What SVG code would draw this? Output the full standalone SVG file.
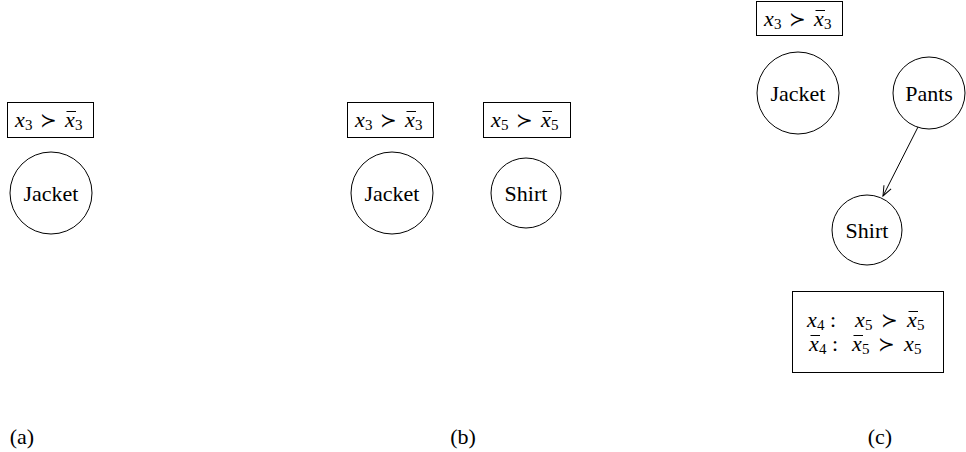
<svg xmlns="http://www.w3.org/2000/svg" width="966" height="452" viewBox="0 0 966 452">
<style>
text{font-family:"Liberation Serif",serif;font-size:22px;fill:#000}
.n{text-anchor:middle}
.i{font-style:italic}
.s{font-size:15px}
.r{font-size:20px;text-anchor:middle}
.ov{stroke:#000;stroke-width:1}
.box{fill:none;stroke:#000;stroke-width:1}
.node{fill:#fff;stroke:#000;stroke-width:1}
.edge{stroke:#000;stroke-width:1;fill:none}
</style>
<defs>
<marker id="ah" markerWidth="12" markerHeight="10" refX="11" refY="5" orient="auto" markerUnits="userSpaceOnUse">
<path d="M1,1 L11,5 L1,9" fill="none" stroke="#000" stroke-width="1"/>
</marker>
</defs>
<!-- (a) -->
<g id="a-pref" transform="translate(7,102)">
<rect class="box" x="0.5" y="0.5" width="86" height="35"/>
<text class="i" x="8" y="25">x</text><text class="s" x="18" y="28">3</text>
<text class="r" x="41" y="25">≻</text>
<text class="i" x="58" y="25">x</text><text class="s" x="68" y="28">3</text>
<line class="ov" x1="59.5" y1="9.5" x2="69" y2="9.5"/>
</g>
<g id="a-jacket">
<circle class="node" cx="51" cy="193" r="41"/>
<text class="n" x="51" y="201">Jacket</text>
</g>
<text class="n" x="22" y="444">(a)</text>
<!-- (b) -->
<g id="b-pref-jacket" transform="translate(347,102)">
<rect class="box" x="0.5" y="0.5" width="86" height="35"/>
<text class="i" x="8" y="25">x</text><text class="s" x="18" y="28">3</text>
<text class="r" x="41" y="25">≻</text>
<text class="i" x="58" y="25">x</text><text class="s" x="68" y="28">3</text>
<line class="ov" x1="59.5" y1="9.5" x2="69" y2="9.5"/>
</g>
<g id="b-jacket">
<circle class="node" cx="392" cy="193" r="41"/>
<text class="n" x="392" y="201">Jacket</text>
</g>
<g id="b-pref-shirt" transform="translate(483,102)">
<rect class="box" x="0.5" y="0.5" width="87" height="35"/>
<text class="i" x="8" y="25">x</text><text class="s" x="18" y="28">5</text>
<text class="r" x="41" y="25">≻</text>
<text class="i" x="58" y="25">x</text><text class="s" x="68" y="28">5</text>
<line class="ov" x1="59.5" y1="9.5" x2="69" y2="9.5"/>
</g>
<g id="b-shirt">
<circle class="node" cx="526" cy="193" r="35"/>
<text class="n" x="526" y="201">Shirt</text>
</g>
<text class="n" x="463" y="444">(b)</text>
<!-- (c) -->
<g id="c-pref-jacket" transform="translate(756,1)">
<rect class="box" x="0.5" y="0.5" width="86" height="34"/>
<text class="i" x="8" y="25">x</text><text class="s" x="18" y="28">3</text>
<text class="r" x="41" y="25">≻</text>
<text class="i" x="58" y="25">x</text><text class="s" x="68" y="28">3</text>
<line class="ov" x1="59.5" y1="9.5" x2="69" y2="9.5"/>
</g>
<g id="c-jacket">
<circle class="node" cx="798" cy="93" r="41"/>
<text class="n" x="798" y="101">Jacket</text>
</g>
<g id="c-pants">
<circle class="node" cx="929" cy="93" r="36"/>
<text class="n" x="929" y="101">Pants</text>
</g>
<g id="c-shirt">
<circle class="node" cx="867" cy="230" r="35"/>
<text class="n" x="867" y="238">Shirt</text>
</g>
<g id="c-cpt">
<rect class="box" x="792.5" y="291.5" width="151" height="81"/>
<text class="i" x="807" y="327">x</text><text class="s" x="817" y="330">4</text>
<text x="830" y="327">:</text>
<text class="i" x="855" y="327">x</text><text class="s" x="865" y="330">5</text>
<text class="r" x="889" y="327">≻</text>
<text class="i" x="907" y="327">x</text><text class="s" x="917" y="330">5</text>
<line class="ov" x1="908.5" y1="311.5" x2="918" y2="311.5"/>
<text class="i" x="809" y="351">x</text><text class="s" x="819" y="354">4</text>
<line class="ov" x1="810.5" y1="335.5" x2="820" y2="335.5"/>
<text x="832" y="351">:</text>
<text class="i" x="852" y="351">x</text><text class="s" x="862" y="354">5</text>
<line class="ov" x1="853.5" y1="335.5" x2="863" y2="335.5"/>
<text class="r" x="886" y="351">≻</text>
<text class="i" x="904" y="351">x</text><text class="s" x="914" y="354">5</text>
</g>
<text class="n" x="880" y="444">(c)</text>
<g id="connectors">
<line class="edge" x1="918" y1="127" x2="883" y2="196" marker-end="url(#ah)"/>
</g>
</svg>
